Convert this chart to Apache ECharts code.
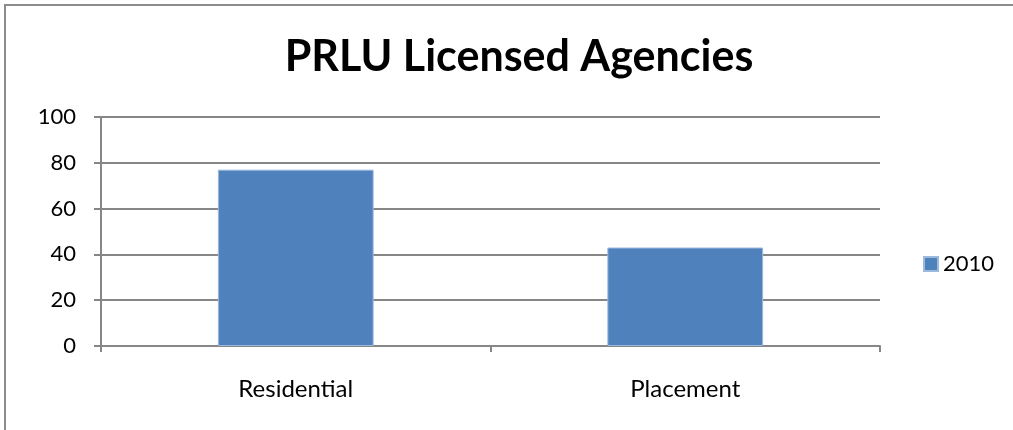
<!DOCTYPE html>
<html>
<head>
<meta charset="utf-8">
<script src="https://cdn.jsdelivr.net/npm/echarts@6/dist/echarts.min.js"></script>
<style>
  html, body { margin: 0; padding: 0; overflow: hidden; background: #fff; }
  #frame { position: absolute; left: 4px; top: 4px; width: 1100px; height: 500px; border: 2px solid #8c8c8c; }
  #main { position: absolute; left: 0; top: 0; width: 1013px; height: 430px; }
</style>
</head>
<body>
<div id="frame"></div>
<div id="main"></div>
<script>
var categories = ['Residential', 'Placement'];
var seriesName = '2010';
var values2010 = [77, 43];
var yTicks = { min: 0, max: 100, interval: 20 };

var chart = echarts.init(document.getElementById('main'));
chart.setOption({
    animation: false,
    title: {
        text: 'PRLU Licensed Agencies',
        left: 514,
        textAlign: 'center',
        top: 31,
        textStyle: { fontFamily: 'Lato', fontWeight: 'bold', fontSize: 43, color: '#000' }
    },
    legend: {
        data: [seriesName],
        orient: 'vertical',
        left: 918,
        top: 248,
        itemWidth: 14,
        itemHeight: 14,
        itemGap: 6,
        icon: 'rect',
        textStyle: { fontFamily: 'Lato', fontSize: 22, color: '#000', padding: [0, 0, 0, 0] }
    },
    grid: { left: 101, right: 133, top: 117, bottom: 84, containLabel: false },
    xAxis: {
        type: 'category',
        data: categories,
        axisLine: { lineStyle: { color: '#868686', width: 2 } },
        axisTick: { show: true, length: 6, lineStyle: { color: '#868686', width: 2 } },
        axisLabel: { fontFamily: 'Lato', fontSize: 24, color: '#000', margin: 31 }
    },
    yAxis: {
        type: 'value',
        min: yTicks.min,
        max: yTicks.max,
        interval: yTicks.interval,
        axisLine: { show: true, lineStyle: { color: '#868686', width: 2 } },
        axisTick: { show: true, length: 7, lineStyle: { color: '#868686', width: 2 } },
        axisLabel: { fontFamily: 'Lato', fontSize: 22, color: '#000', margin: 25 },
        splitLine: { lineStyle: { color: '#868686', width: 2 } }
    },
    series: [
        {
            name: seriesName,
            type: 'bar',
            data: values2010,
            barWidth: '40%',
            itemStyle: { color: '#4F81BD', borderColor: '#9DB9DD', borderWidth: 1 }
        }
    ]
});
</script>
</body>
</html>
